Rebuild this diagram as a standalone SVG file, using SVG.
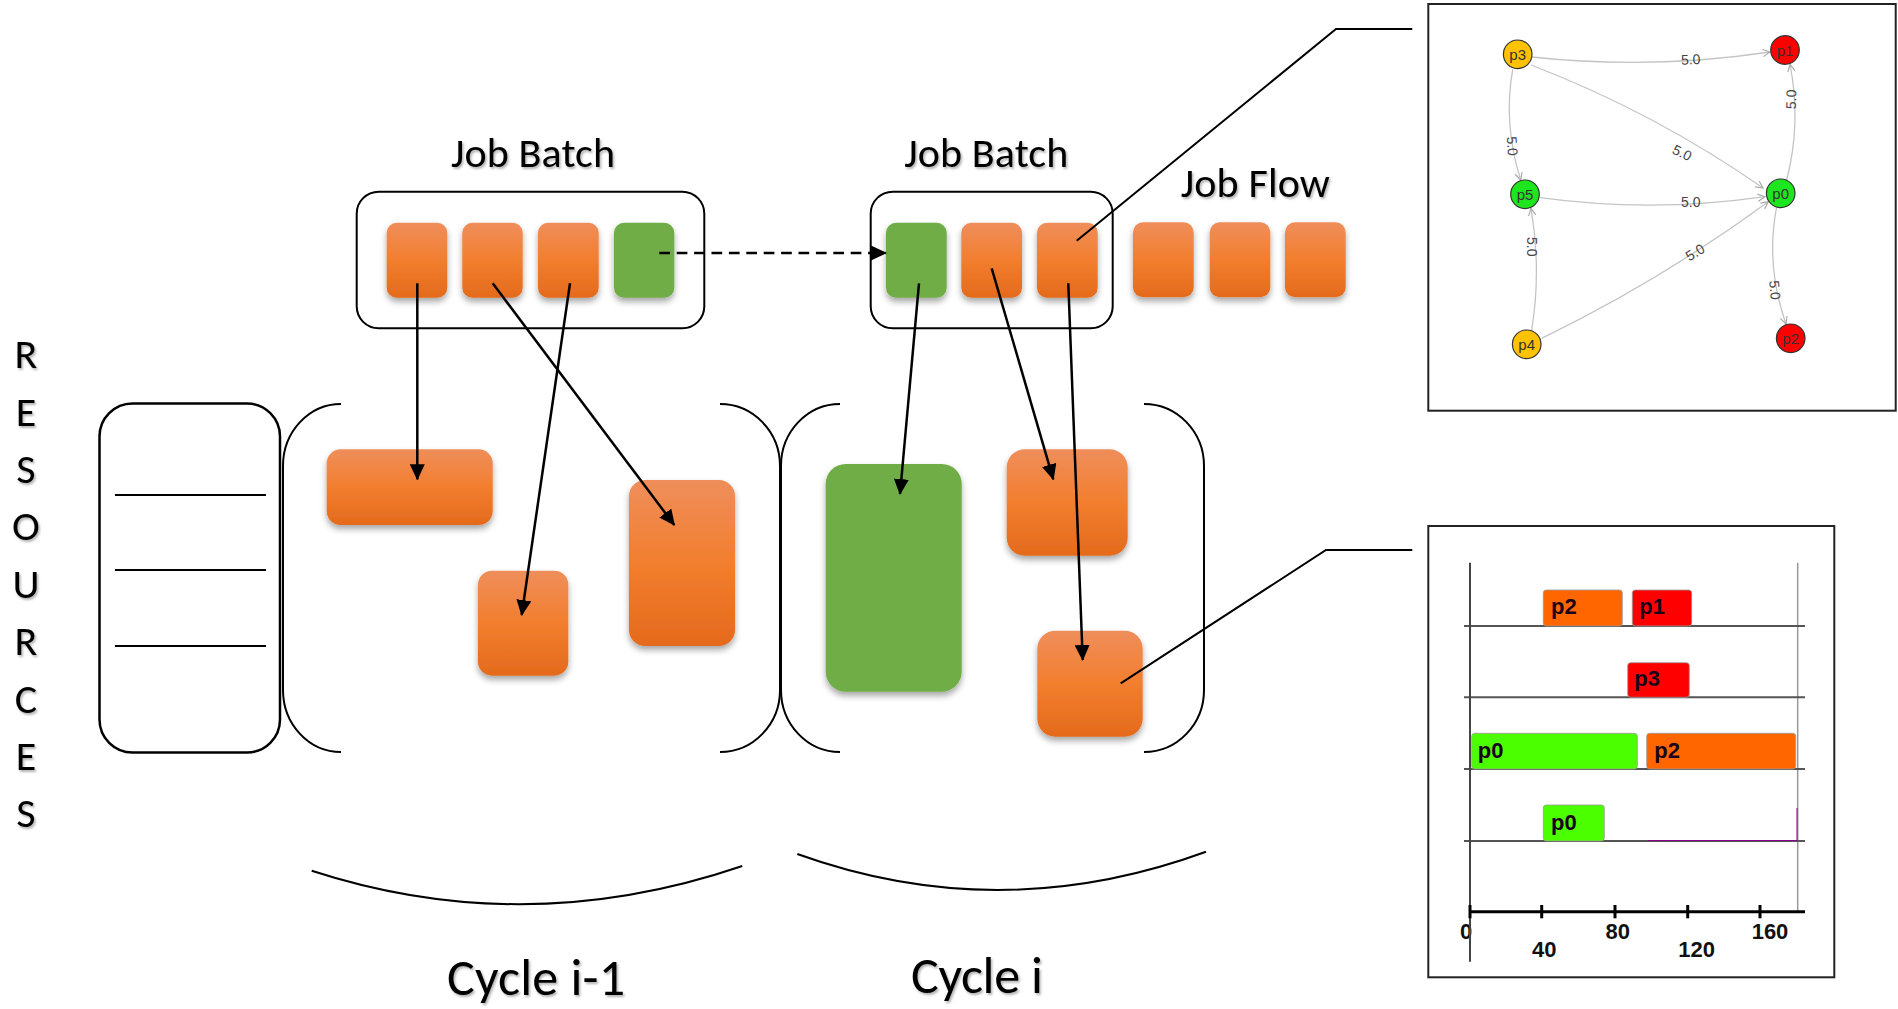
<svg xmlns="http://www.w3.org/2000/svg" width="1898" height="1009" viewBox="0 0 1898 1009">
<defs>
  <linearGradient id="og" x1="0" y1="0" x2="0" y2="1">
    <stop offset="0" stop-color="#EF8E5B"/>
    <stop offset="0.5" stop-color="#F27E2E"/>
    <stop offset="1" stop-color="#E46A1C"/>
  </linearGradient>
  <filter id="sh" x="-20%" y="-20%" width="140%" height="150%">
    <feDropShadow dx="0" dy="4" stdDeviation="3" flood-color="#000" flood-opacity="0.35"/>
  </filter>
  <filter id="tsh" x="-10%" y="-20%" width="120%" height="150%">
    <feDropShadow dx="1.5" dy="2" stdDeviation="1" flood-color="#000" flood-opacity="0.3"/>
  </filter>
  <marker id="ah" viewBox="0 0 16 15" refX="15" refY="7.5" markerWidth="16" markerHeight="15" markerUnits="userSpaceOnUse" orient="auto">
    <path d="M0,0 L16,7.5 L0,15 z" fill="#000"/>
  </marker>
  <marker id="ga" viewBox="0 0 10 10" refX="9" refY="5" markerWidth="9" markerHeight="9" markerUnits="userSpaceOnUse" orient="auto">
    <path d="M1,1 L9,5 L1,9" fill="none" stroke="#aaa" stroke-width="1.3"/>
  </marker>
</defs>
<style>
  .lbl{font-family:"Carlito","Open Sans","Liberation Sans",sans-serif;fill:#000;filter:url(#tsh)}
  .job{fill:url(#og);filter:url(#sh)}
  .jobg{fill:#70AD47;filter:url(#sh)}
  .box{fill:none;stroke:#000;stroke-width:2}
  .arr{stroke:#000;stroke-width:2.5;fill:none;marker-end:url(#ah)}
  .lead{stroke:#000;stroke-width:2;fill:none}
  .edge{fill:none;stroke:#c4c4c4;stroke-width:1.3;marker-end:url(#ga)}
  .el{font-family:"Liberation Sans",Arial,sans-serif;font-size:14px;fill:#444;text-anchor:middle;dominant-baseline:central}
  .node{stroke:#333;stroke-width:1.2}
  .nl{font-family:"Liberation Sans",Arial,sans-serif;font-size:15px;fill:#333;text-anchor:middle;dominant-baseline:central}
  .bar{stroke:#999;stroke-width:0.8}
  .gl{font-family:"Liberation Sans",Arial,sans-serif;font-weight:bold;font-size:22px;fill:#1a001a}
  .ax{font-family:"Liberation Sans",Arial,sans-serif;font-weight:bold;font-size:22px;fill:#111;text-anchor:middle}
  .row{stroke:#555;stroke-width:2}
</style>
<rect width="1898" height="1009" fill="#fff"/>

<!-- RESOURCES label -->
<g id="resources-label" class="lbl" font-size="42" text-anchor="middle">
  <text x="26" y="368">R</text>
  <text x="26" y="425.5">E</text>
  <text x="26" y="483">S</text>
  <text x="26" y="540">O</text>
  <text x="26" y="597.5">U</text>
  <text x="26" y="655">R</text>
  <text x="26" y="712.5">C</text>
  <text x="26" y="770">E</text>
  <text x="26" y="827">S</text>
</g>

<!-- Resource box -->
<g id="resource-box">
  <rect x="99.5" y="403.5" width="180.5" height="349" rx="33" fill="none" stroke="#000" stroke-width="2.5"/>
  <line x1="115" y1="495" x2="266" y2="495" stroke="#000" stroke-width="1.8"/>
  <line x1="115" y1="570" x2="266" y2="570" stroke="#000" stroke-width="1.8"/>
  <line x1="115" y1="646" x2="266" y2="646" stroke="#000" stroke-width="1.8"/>
</g>

<!-- Job batch 1 -->
<g id="job-batch-1">
  <text class="lbl" x="533" y="167" font-size="42" text-anchor="middle" textLength="164">Job Batch</text>
  <rect class="box" x="356.7" y="191.7" width="347.6" height="136.6" rx="22"/>
  <rect class="job" x="386.7" y="222.7" width="60.6" height="75" rx="10"/>
  <rect class="job" x="462.3" y="222.7" width="60.4" height="75" rx="10"/>
  <rect class="job" x="538" y="222.7" width="60.7" height="75" rx="10"/>
  <rect class="jobg" x="614" y="222.7" width="60.3" height="75" rx="10"/>
</g>

<!-- Job batch 2 -->
<g id="job-batch-2">
  <text class="lbl" x="986.3" y="167" font-size="42" text-anchor="middle" textLength="164">Job Batch</text>
  <rect class="box" x="870.7" y="191.7" width="242" height="136.6" rx="22"/>
  <rect class="jobg" x="886" y="222.7" width="60.7" height="75" rx="10"/>
  <rect class="job" x="961.3" y="222.7" width="60.7" height="75" rx="10"/>
  <rect class="job" x="1037" y="222.7" width="60.7" height="75" rx="10"/>
</g>

<!-- Job flow -->
<g id="job-flow">
  <text class="lbl" x="1255.3" y="197" font-size="42" text-anchor="middle" textLength="149">Job Flow</text>
  <rect class="job" x="1133" y="222.3" width="60.7" height="75" rx="10"/>
  <rect class="job" x="1209.7" y="222.3" width="60.6" height="75" rx="10"/>
  <rect class="job" x="1285" y="222.3" width="60.7" height="75" rx="10"/>
</g>

<!-- Cycle i-1 -->
<g id="cycle-i-1">
  <path class="box" d="M341,404 A58,62 0 0 0 283,466 L283,690 A58,62 0 0 0 341,752"/>
  <path class="box" d="M720,404 A60,62 0 0 1 780,466 L780,690 A60,62 0 0 1 720,752"/>
  <rect class="job" x="326.7" y="449.3" width="166" height="75.7" rx="14"/>
  <rect class="job" x="478" y="570.7" width="90.3" height="105" rx="14"/>
  <rect class="job" x="629" y="480" width="106" height="166" rx="16"/>
  <path class="box" d="M311.7,870.7 Q525,940 742.3,866"/>
  <text class="lbl" x="536" y="995" font-size="52" text-anchor="middle" textLength="178">Cycle i-1</text>
</g>

<!-- Cycle i -->
<g id="cycle-i">
  <path class="box" d="M840,404 A59,62 0 0 0 781,466 L781,690 A59,62 0 0 0 840,752"/>
  <path class="box" d="M1144,404 A60,62 0 0 1 1204,466 L1204,690 A60,62 0 0 1 1144,752"/>
  <rect class="jobg" x="825.7" y="464" width="136" height="227.7" rx="20"/>
  <rect class="job" x="1006.7" y="449.3" width="121" height="106.4" rx="18"/>
  <rect class="job" x="1037.3" y="630.7" width="105.4" height="106" rx="18"/>
  <path class="box" d="M797.3,854 Q1000,927 1206,851.7"/>
  <text class="lbl" x="977" y="993.3" font-size="52" text-anchor="middle" textLength="132">Cycle i</text>
</g>

<!-- Connectors -->
<g id="connectors">
  <line class="arr" x1="417.3" y1="283.3" x2="417.3" y2="479.3"/>
  <line class="arr" x1="492.7" y1="283.3" x2="674.3" y2="525"/>
  <line class="arr" x1="570" y1="283.3" x2="521.7" y2="615"/>
  <line class="arr" x1="919" y1="283.3" x2="900" y2="494"/>
  <line class="arr" x1="991.7" y1="268.3" x2="1053.3" y2="479.3"/>
  <line class="arr" x1="1068.3" y1="283.3" x2="1082.7" y2="660"/>
  <line class="arr" x1="659.3" y1="253" x2="886" y2="253" stroke-dasharray="10.7 6.7"/>
  <polyline class="lead" points="1076.7,240.7 1336,29 1412.3,29"/>
  <polyline class="lead" points="1120.7,683.3 1326,550 1412.3,550"/>
</g>

<!-- Graph panel -->
<g id="graph-panel">
  <rect x="1428.3" y="4" width="467.4" height="406.7" fill="#fff" stroke="#222" stroke-width="2"/>
  <g id="graph-edges">
    <path class="edge" d="M1532,57 Q1650,70 1770,52"/>
    <path class="edge" d="M1531,65 Q1654.5,112.4 1763,188"/>
    <path class="edge" d="M1512.7,69.3 Q1503,124 1520.7,180"/>
    <path class="edge" d="M1540,197.7 Q1652,213 1765,196.7"/>
    <path class="edge" d="M1531.7,330 Q1541.5,269 1531,208.3"/>
    <path class="edge" d="M1541.7,338.3 Q1661.2,280.3 1768.3,201.7"/>
    <path class="edge" d="M1786.7,180 Q1801.5,122 1790,64.3"/>
    <path class="edge" d="M1776.7,206.7 Q1765.3,265 1786,324"/>
    <text class="el" x="1690.7" y="59.3" transform="rotate(-2 1690.7 59.3)">5.0</text>
    <text class="el" x="1682.3" y="152.7" transform="rotate(26 1682.3 152.7)">5.0</text>
    <text class="el" x="1512.3" y="146" transform="rotate(86 1512.3 146)">5.0</text>
    <text class="el" x="1690.7" y="201.7">5.0</text>
    <text class="el" x="1532.3" y="246.7" transform="rotate(90 1532.3 246.7)">5.0</text>
    <text class="el" x="1695" y="252.3" transform="rotate(-31 1695 252.3)">5.0</text>
    <text class="el" x="1791" y="99.3" transform="rotate(-88 1791 99.3)">5.0</text>
    <text class="el" x="1775" y="290" transform="rotate(86 1775 290)">5.0</text>
  </g>
  <g id="node-p3"><circle class="node" cx="1517.7" cy="54.3" r="14.3" fill="#FFC200"/><text class="nl" x="1517.7" y="54.3">p3</text></g>
  <g id="node-p1"><circle class="node" cx="1785" cy="50" r="14.3" fill="#FF0000"/><text class="nl" x="1785" y="50">p1</text></g>
  <g id="node-p5"><circle class="node" cx="1525" cy="194.3" r="14.3" fill="#1EE61E"/><text class="nl" x="1525" y="194.3">p5</text></g>
  <g id="node-p0"><circle class="node" cx="1780.7" cy="193.3" r="14.3" fill="#1EE61E"/><text class="nl" x="1780.7" y="193.3">p0</text></g>
  <g id="node-p4"><circle class="node" cx="1526.7" cy="344.3" r="14.3" fill="#FFC200"/><text class="nl" x="1526.7" y="344.3">p4</text></g>
  <g id="node-p2"><circle class="node" cx="1790.7" cy="338.3" r="14.3" fill="#FF0000"/><text class="nl" x="1790.7" y="338.3">p2</text></g>
</g>

<!-- Gantt panel -->
<g id="gantt-panel">
  <rect x="1428.3" y="526" width="406" height="451.3" fill="#fff" stroke="#222" stroke-width="2"/>
  <line x1="1797.7" y1="562.7" x2="1797.7" y2="911.7" stroke="#999" stroke-width="1.5"/>
  <line class="row" x1="1464" y1="626" x2="1805" y2="626"/>
  <line class="row" x1="1464" y1="697.3" x2="1805" y2="697.3"/>
  <line class="row" x1="1464" y1="769" x2="1805" y2="769"/>
  <line class="row" x1="1464" y1="841" x2="1805" y2="841"/>
  <polyline points="1648.3,840.5 1797,840.5 1797,808" fill="none" stroke="#8a008a" stroke-width="1"/>
  <rect class="bar" x="1543.3" y="590" width="79" height="36" rx="3" fill="#FF6600"/>
  <rect class="bar" x="1632.3" y="590" width="59.4" height="36" rx="3" fill="#FF0000"/>
  <rect class="bar" x="1627.7" y="662.7" width="61.6" height="34.6" rx="3" fill="#FF0000"/>
  <rect class="bar" x="1471.7" y="733.3" width="165.6" height="35.7" rx="3" fill="#4CFF00"/>
  <rect class="bar" x="1646.7" y="733.3" width="149" height="35.7" rx="3" fill="#FF6600"/>
  <rect class="bar" x="1543.3" y="805" width="61" height="36" rx="3" fill="#4CFF00"/>
  <text class="gl" x="1551" y="614">p2</text>
  <text class="gl" x="1639.3" y="614">p1</text>
  <text class="gl" x="1634.3" y="686">p3</text>
  <text class="gl" x="1477.7" y="758">p0</text>
  <text class="gl" x="1654.3" y="758">p2</text>
  <text class="gl" x="1551" y="830">p0</text>
  <text class="ax" x="1466" y="939">0</text>
  <text class="ax" x="1617.7" y="939">80</text>
  <text class="ax" x="1770" y="939">160</text>
  <text class="ax" x="1544.3" y="957">40</text>
  <text class="ax" x="1696.7" y="957">120</text>
  <line x1="1470" y1="562.7" x2="1470" y2="961.7" stroke="#444" stroke-width="2"/>
  <line x1="1470" y1="911.7" x2="1805" y2="911.7" stroke="#000" stroke-width="3"/>
  <g stroke="#000" stroke-width="3">
    <line x1="1470" y1="905" x2="1470" y2="918.3"/>
    <line x1="1541.7" y1="905" x2="1541.7" y2="918.3"/>
    <line x1="1615" y1="905" x2="1615" y2="918.3"/>
    <line x1="1687.7" y1="905" x2="1687.7" y2="918.3"/>
    <line x1="1760" y1="905" x2="1760" y2="918.3"/>
  </g>
</g>
</svg>
